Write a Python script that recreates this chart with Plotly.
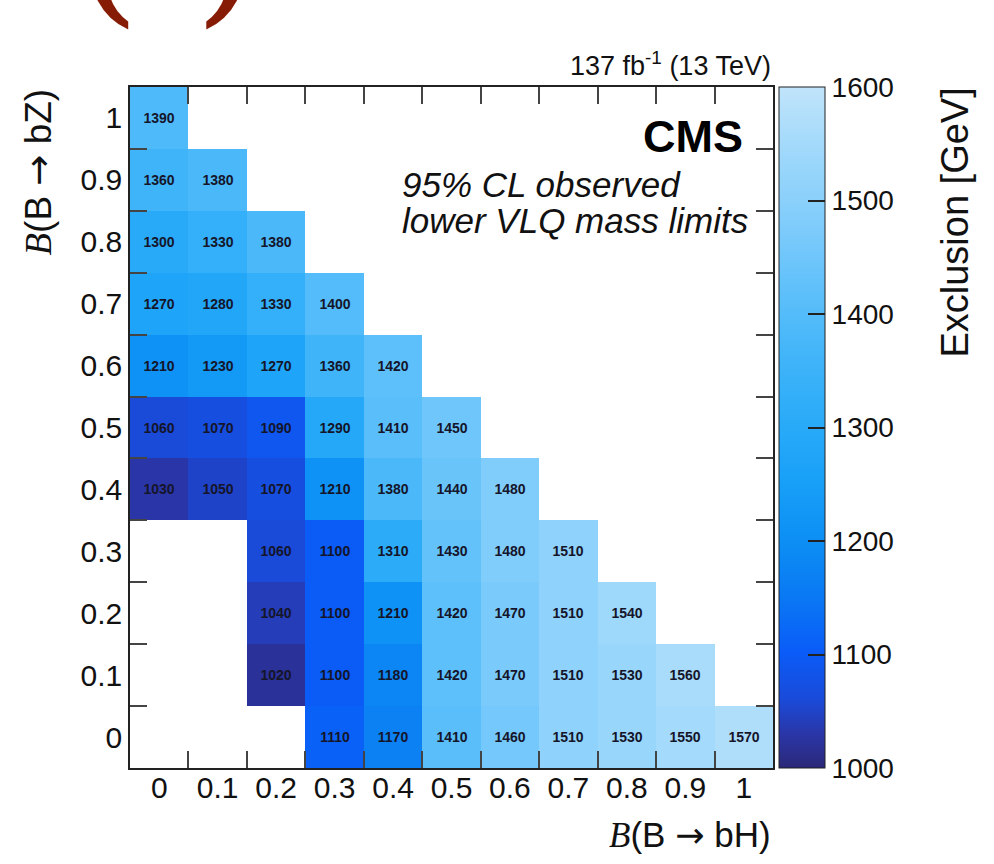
import plotly.graph_objects as go

# Tick labels / categories
bh_labels = ["0", "0.1", "0.2", "0.3", "0.4", "0.5", "0.6", "0.7", "0.8", "0.9", "1"]
bz_labels = ["0", "0.1", "0.2", "0.3", "0.4", "0.5", "0.6", "0.7", "0.8", "0.9", "1"]

N = None
# rows: B(B->bZ) = 0 ... 1 (bottom to top); columns: B(B->bH) = 0 ... 1
row_bz_0   = [N, N, N, 1110, 1170, 1410, 1460, 1510, 1530, 1550, 1570]
row_bz_0p1 = [N, N, 1020, 1100, 1180, 1420, 1470, 1510, 1530, 1560, N]
row_bz_0p2 = [N, N, 1040, 1100, 1210, 1420, 1470, 1510, 1540, N, N]
row_bz_0p3 = [N, N, 1060, 1100, 1310, 1430, 1480, 1510, N, N, N]
row_bz_0p4 = [1030, 1050, 1070, 1210, 1380, 1440, 1480, N, N, N, N]
row_bz_0p5 = [1060, 1070, 1090, 1290, 1410, 1450, N, N, N, N, N]
row_bz_0p6 = [1210, 1230, 1270, 1360, 1420, N, N, N, N, N, N]
row_bz_0p7 = [1270, 1280, 1330, 1400, N, N, N, N, N, N, N]
row_bz_0p8 = [1300, 1330, 1380, N, N, N, N, N, N, N, N]
row_bz_0p9 = [1360, 1380, N, N, N, N, N, N, N, N, N]
row_bz_1   = [1390, N, N, N, N, N, N, N, N, N, N]

z = [row_bz_0, row_bz_0p1, row_bz_0p2, row_bz_0p3, row_bz_0p4, row_bz_0p5,
     row_bz_0p6, row_bz_0p7, row_bz_0p8, row_bz_0p9, row_bz_1]
text = [["" if v is None else str(v) for v in r] for r in z]

cbar_ticks = [1000, 1100, 1200, 1300, 1400, 1500, 1600]

colorscale = [
    [0.00, "#2b2878"],
    [0.05, "#2a36a8"],
    [0.10, "#1a4ad8"],
    [0.17, "#0a5cf8"],
    [0.25, "#0a78f4"],
    [0.33, "#0c8ef4"],
    [0.42, "#18a0f8"],
    [0.50, "#28aaf8"],
    [0.60, "#40b4f9"],
    [0.70, "#5ec0fa"],
    [0.80, "#80ccfb"],
    [0.90, "#9ed8fb"],
    [1.00, "#c0e4fb"],
]

fig = go.Figure()
fig.add_trace(go.Heatmap(
    x=bh_labels, y=bz_labels, z=z, text=text,
    texttemplate="%{text}",
    textfont=dict(family="Liberation Sans", size=14, color="#15152a", weight="bold"),
    colorscale=colorscale, zmin=1000, zmax=1600,
    hoverongaps=False,
    colorbar=dict(
        x=1.0093, xanchor="left", xpad=0, ypad=0,
        y=0.5, yanchor="middle", len=1, lenmode="fraction",
        thickness=46, thicknessmode="pixels",
        outlinewidth=1, outlinecolor="#222",
        ticks="inside", ticklen=17, tickwidth=1.5, tickcolor="#222",
        tickvals=cbar_ticks, ticktext=[str(t) for t in cbar_ticks],
        tickfont=dict(family="Liberation Sans", size=28, color="#111"),
    ),
))

axis_common = dict(
    type="category", tickson="boundaries", ticks="inside", ticklen=17,
    tickwidth=1.5, tickcolor="#444", showline=True, linecolor="#222",
    linewidth=1.5, mirror="ticks", showgrid=False, zeroline=False,
    tickfont=dict(family="Liberation Sans", size=30, color="#111"),
    range=[-0.5, 10.5],
)
fig.update_xaxes(categoryorder="array", categoryarray=bh_labels,
                 ticklabelstandoff=-8, **axis_common)
fig.update_yaxes(categoryorder="array", categoryarray=bz_labels, **axis_common)

arrow = "<span style='font-family:DejaVu Sans'>→</span>"
scriptB = "<i><span style='font-family:Liberation Serif'>B</span></i>"

ann = []
ann.append(dict(xref="paper", yref="paper", x=1.0, y=-0.098, xanchor="right", yanchor="middle",
                text=scriptB + "(B " + arrow + " bH)",
                showarrow=False, font=dict(family="Liberation Sans", size=35, color="#111")))
ann.append(dict(xref="paper", yref="paper", x=-0.143, y=1.0, xanchor="center", yanchor="top",
                textangle=-90,
                text=scriptB + "(B " + arrow + " bZ)",
                showarrow=False, font=dict(family="Liberation Sans", size=37, color="#111")))
ann.append(dict(xref="paper", yref="paper", x=1.0, y=1.006, xanchor="right", yanchor="bottom",
                text="137 fb<sup>-1</sup> (13 TeV)",
                showarrow=False, font=dict(family="Liberation Sans", size=27, color="#111")))
ann.append(dict(xref="paper", yref="paper", x=0.956, y=0.9266, xanchor="right", yanchor="middle",
                text="<b>CMS</b>",
                showarrow=False, font=dict(family="Liberation Sans", size=45, color="#000")))
ann.append(dict(xref="paper", yref="paper", x=0.4199, y=0.8565, xanchor="left", yanchor="middle",
                text="<i>95% CL observed</i>", align="left",
                showarrow=False, font=dict(family="Liberation Sans", size=35, color="#111")))
ann.append(dict(xref="paper", yref="paper", x=0.4199, y=0.8035, xanchor="left", yanchor="middle",
                text="<i>lower VLQ mass limits</i>", align="left",
                showarrow=False, font=dict(family="Liberation Sans", size=35, color="#111")))
ann.append(dict(xref="paper", yref="paper", x=1.283, y=1.002, xanchor="center", yanchor="top",
                textangle=-90, text="Exclusion [GeV]",
                showarrow=False, font=dict(family="Liberation Sans", size=38, color="#111")))
ann.append(dict(xref="paper", yref="paper", x=0.059, y=1.062, xanchor="center", yanchor="bottom",
                text="( )",
                showarrow=False, font=dict(family="DejaVu Serif", size=170, color="#861c05")))
fig.update_layout(
    width=994, height=864,
    margin=dict(l=130, r=221, t=87, b=96),
    paper_bgcolor="white", plot_bgcolor="white",
    annotations=ann, showlegend=False,
)

fig.write_html("out.html")
